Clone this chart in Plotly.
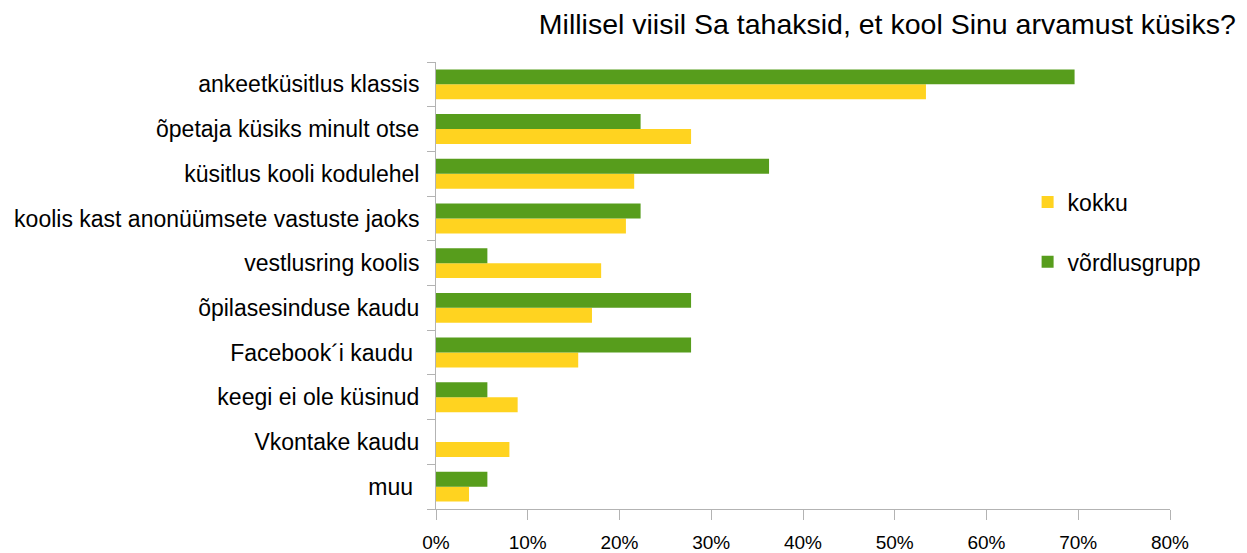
import plotly.graph_objects as go

categories = [
    "ankeetküsitlus klassis",
    "õpetaja küsiks minult otse",
    "küsitlus kooli kodulehel",
    "koolis kast anonüümsete vastuste jaoks",
    "vestlusring koolis",
    "õpilasesinduse kaudu",
    "Facebook´i kaudu ",
    "keegi ei ole küsinud",
    "Vkontake kaudu",
    "muu ",
]
kokku = [53.4, 27.8, 21.6, 20.7, 18.0, 17.0, 15.5, 8.9, 8.0, 3.6]
vordlusgrupp = [69.6, 22.3, 36.3, 22.3, 5.6, 27.8, 27.8, 5.6, 0, 5.6]
x_ticks = [0, 10, 20, 30, 40, 50, 60, 70, 80]

YELLOW = "#FFD320"
GREEN = "#579D1C"
GREY = "#b3b3b3"
REG = "Liberation Sans, Arial, sans-serif"

fig = go.Figure()
fig.add_trace(go.Bar(y=categories, x=kokku, orientation="h", name="kokku",
                     marker=dict(color=YELLOW, line=dict(width=0)), legendgroup="a"))
fig.add_trace(go.Bar(y=categories, x=vordlusgrupp, orientation="h", name="võrdlusgrupp",
                     marker=dict(color=GREEN, line=dict(width=0)), legendgroup="b"))

fig.update_layout(
    width=1247, height=553,
    margin=dict(l=436, r=77, t=62, b=44),
    paper_bgcolor="white", plot_bgcolor="white",
    barmode="group", bargap=0.33, bargroupgap=0,
    title=dict(text="Millisel viisil Sa tahaksid, et kool Sinu arvamust küsiks?",
               x=0.991, xanchor="right", xref="container",
               y=0.957, yanchor="middle", yref="container",
               font=dict(family=REG, size=28.5, color="black")),
    legend=dict(x=0.806, y=0.735, xanchor="left", yanchor="top",
                font=dict(family=REG, size=23, color="black"),
                tracegroupgap=27, traceorder="grouped", bgcolor="rgba(0,0,0,0)"),
    font=dict(family=REG, color="black"),
)
fig.update_xaxes(range=[0, 80], tickvals=x_ticks, ticktext=[f"{v}%" for v in x_ticks],
                 showgrid=False, zeroline=False, showline=True, linecolor=GREY, linewidth=1,
                 ticks="outside", ticklen=10, tickcolor=GREY, tickwidth=1,
                 ticklabelstandoff=6, automargin=False,
                 tickfont=dict(family=REG, size=19, color="black"))
fig.update_yaxes(categoryorder="array", categoryarray=categories[::-1],
                 showgrid=False, zeroline=False, showline=True, linecolor=GREY, linewidth=1,
                 ticks="outside", ticklen=8, tickcolor=GREY, tickwidth=1, tickson="boundaries",
                 ticklabelstandoff=11, automargin=False,
                 tickfont=dict(family=REG, size=23, color="black"))

fig.write_html("out.html", config={"displayModeBar": False},
               post_script="document.body.style.margin='0';")
